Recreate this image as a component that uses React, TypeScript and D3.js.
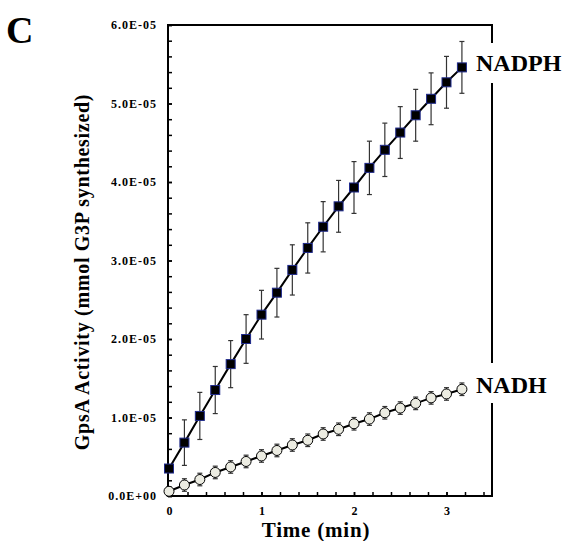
import React, { useEffect, useRef } from 'react';
import * as d3 from 'd3';

// time points (min), one every 10 s
const times = d3.range(20).map(i => i / 6);

// NADPH series (x1e-5 mmol)
const nadph = [0.35, 0.68, 1.02, 1.35, 1.68, 2.0, 2.31, 2.59, 2.88, 3.16,
  3.43, 3.69, 3.93, 4.18, 4.41, 4.63, 4.85, 5.06, 5.27, 5.46];
const nadphErr = [0.05, 0.29, 0.30, 0.30, 0.30, 0.31, 0.31, 0.31, 0.32, 0.32,
  0.32, 0.33, 0.33, 0.34, 0.34, 0.33, 0.33, 0.33, 0.33, 0.33];

// NADH series (x1e-5 mmol)
const nadh = [0.06, 0.14, 0.21, 0.30, 0.37, 0.44, 0.51, 0.58, 0.65, 0.71,
  0.79, 0.85, 0.92, 0.98, 1.06, 1.12, 1.18, 1.25, 1.30, 1.36];
const nadhErr = [0.06, 0.08, 0.08, 0.08, 0.08, 0.08, 0.08, 0.08, 0.08, 0.08,
  0.08, 0.08, 0.08, 0.08, 0.08, 0.08, 0.08, 0.08, 0.08, 0.08];

const yTicks = [0, 1, 2, 3, 4, 5, 6];
const yTickLabels = ['0.0E+00', '1.0E-05', '2.0E-05', '3.0E-05', '4.0E-05', '5.0E-05', '6.0E-05'];
const xTicks = [0, 1, 2, 3];
const xTickLabels = ['0', '1', '2', '3'];

const FONT = '"Liberation Serif", "Times New Roman", serif';

const App = () => {
  const ref = useRef(null);

  useEffect(() => {
    const svg = d3.select(ref.current);
    svg.selectAll('*').remove();

    const left = 168, right = 492, top = 25, bottom = 496;
    const x = d3.scaleLinear().domain([0, 3.5]).range([left + 1, right + 0.75]);
    const y = d3.scaleLinear().domain([0, 6]).range([bottom, top]);

    // frame
    const frame = svg.append('g').attr('stroke', '#000').attr('stroke-width', 2).attr('fill', 'none');
    frame.append('line').attr('x1', left).attr('x2', left).attr('y1', top).attr('y2', bottom);
    frame.append('line').attr('x1', left - 1).attr('x2', right + 1).attr('y1', top).attr('y2', top);
    frame.append('line').attr('x1', left - 1).attr('x2', right + 1).attr('y1', bottom).attr('y2', bottom);
    [[top, 43], [83, 363], [403, bottom]].forEach(([a, b]) => {
      frame.append('line').attr('x1', right).attr('x2', right).attr('y1', a).attr('y2', b);
    });

    // y axis
    const yAxis = svg.append('g')
      .attr('transform', `translate(${left},0)`)
      .call(d3.axisLeft(y).tickValues(yTicks)
        .tickFormat((d, i) => yTickLabels[i])
        .tickSizeInner(-4).tickSizeOuter(0).tickPadding(11));
    yAxis.select('.domain').remove();
    yAxis.selectAll('line').attr('stroke-width', 1.5);
    yAxis.selectAll('text')
      .attr('font-family', FONT).attr('font-weight', 'bold').attr('font-size', 12)
      .attr('letter-spacing', 1).attr('fill', '#000');

    const yMinor = svg.append('g')
      .attr('transform', `translate(${left},0)`)
      .call(d3.axisLeft(y).tickValues(d3.range(0, 6.01, 0.2)).tickFormat('')
        .tickSizeInner(-4).tickSizeOuter(0));
    yMinor.select('.domain').remove();
    yMinor.selectAll('line').attr('stroke-width', 1.5);

    // x axis
    const xAxis = svg.append('g')
      .attr('transform', `translate(0,${bottom})`)
      .call(d3.axisBottom(x).tickValues(xTicks)
        .tickFormat((d, i) => xTickLabels[i])
        .tickSizeInner(-4).tickSizeOuter(0).tickPadding(10));
    xAxis.select('.domain').remove();
    xAxis.selectAll('line').attr('stroke-width', 1.5);
    xAxis.selectAll('text')
      .attr('font-family', FONT).attr('font-weight', 'bold').attr('font-size', 12).attr('fill', '#000');

    const xMinor = svg.append('g')
      .attr('transform', `translate(0,${bottom})`)
      .call(d3.axisBottom(x).tickValues(d3.range(0, 3.41, 0.2)).tickFormat('')
        .tickSizeInner(-4).tickSizeOuter(0));
    xMinor.select('.domain').remove();
    xMinor.selectAll('line').attr('stroke-width', 1.5);

    const line = d3.line().x(d => x(d[0])).y(d => y(d[1]));

    const drawErr = (vals, errs, cap) => {
      const g = svg.append('g').attr('stroke', '#333').attr('stroke-width', 1.2);
      times.forEach((t, i) => {
        const cx = x(t), y1 = y(vals[i] + errs[i]), y2 = y(vals[i] - errs[i]);
        g.append('line').attr('x1', cx).attr('x2', cx).attr('y1', y1).attr('y2', y2);
        g.append('line').attr('x1', cx - cap).attr('x2', cx + cap).attr('y1', y1).attr('y2', y1);
        g.append('line').attr('x1', cx - cap).attr('x2', cx + cap).attr('y1', y2).attr('y2', y2);
      });
    };

    // NADPH
    drawErr(nadph, nadphErr, 2.5);
    svg.append('path')
      .datum(times.map((t, i) => [t, nadph[i]]))
      .attr('d', line).attr('fill', 'none').attr('stroke', '#000').attr('stroke-width', 2);
    svg.append('g').selectAll('rect')
      .data(times.map((t, i) => [t, nadph[i]]))
      .join('rect')
        .attr('x', d => x(d[0]) - 4.5)
        .attr('y', d => y(d[1]) - 4.5)
        .attr('width', 9).attr('height', 9)
        .attr('fill', '#000').attr('stroke', '#1f2a8c').attr('stroke-width', 1);

    // NADH
    drawErr(nadh, nadhErr, 2.5);
    svg.append('path')
      .datum(times.map((t, i) => [t, nadh[i]]))
      .attr('d', line).attr('fill', 'none').attr('stroke', '#000').attr('stroke-width', 2);
    svg.append('g').selectAll('circle')
      .data(times.map((t, i) => [t, nadh[i]]))
      .join('circle')
        .attr('cx', d => x(d[0]))
        .attr('cy', d => y(d[1]))
        .attr('r', 5)
        .attr('fill', '#ecece2').attr('stroke', '#000').attr('stroke-width', 1);

    // labels
    const txt = (s, tx, ty, size, anchor = 'start', rot = 0, ls = 0) =>
      svg.append('text')
        .attr('transform', `translate(${tx},${ty}) rotate(${rot})`)
        .attr('text-anchor', anchor)
        .attr('font-family', FONT).attr('font-weight', 'bold').attr('font-size', size)
        .attr('letter-spacing', ls)
        .attr('fill', '#000')
        .text(s);

    txt('C', 6, 43, 38);
    txt('NADPH', 476, 71, 24);
    txt('NADH', 476, 393, 24);
    txt('Time (min)', 316, 537, 21, 'middle', 0, 0.8);
    txt('GpsA Activity (mmol G3P synthesized)', 89, 272, 20, 'middle', -90, 0.7);
  }, []);

  return (
    <svg ref={ref} width={564} height={541}
      style={{ position: 'absolute', left: 0, top: 0, background: '#fff' }} />
  );
};

export default App;
